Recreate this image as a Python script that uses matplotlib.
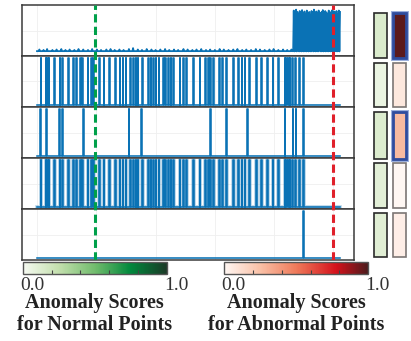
import numpy as np
import matplotlib
matplotlib.use("Agg")
import matplotlib.pyplot as plt
from matplotlib.colors import LinearSegmentedColormap, Normalize
from matplotlib.patches import Rectangle
import matplotlib.cm as cm

# ---------------- data ----------------
n_points = 512
xticks_grid = [0, 100, 200, 300, 400, 500]

# panel 1: raw series (baseline with small bumps, then anomalous burst)
top_base_level = 0.055
top_bump_idx = [4, 11, 17, 26, 33, 41, 48, 55, 63, 70, 78, 86, 93, 101, 108, 117, 124, 131,
                139, 146, 155, 162, 170, 177, 185, 193, 200, 208, 216, 223, 231, 238, 247, 254,
                262, 269, 277, 285, 292, 300, 308, 315, 323, 331, 338, 346, 353, 361, 369, 376,
                384, 392, 399, 407, 415, 422, 429]
top_bump_val = [0.09, 0.08, 0.10, 0.08, 0.09, 0.10, 0.08, 0.09, 0.08, 0.10, 0.09, 0.08, 0.10,
                0.09, 0.08, 0.09, 0.10, 0.08, 0.09, 0.08, 0.10, 0.12, 0.09, 0.08, 0.10, 0.09,
                0.08, 0.09, 0.10, 0.08, 0.09, 0.08, 0.10, 0.09, 0.08, 0.09, 0.10, 0.08, 0.09,
                0.08, 0.10, 0.09, 0.08, 0.09, 0.10, 0.08, 0.09, 0.08, 0.10, 0.09, 0.08, 0.09,
                0.10, 0.08, 0.09, 0.08, 0.09]
top_burst_start = 433
top_burst_vals = [0.93, 0.05, 0.88, 0.06, 0.95, 0.05, 0.90, 0.07, 0.86, 0.05,
                  0.92, 0.06, 0.89, 0.05, 0.94, 0.06, 0.87, 0.05, 0.91, 0.07,
                  0.85, 0.05, 0.93, 0.06, 0.88, 0.05, 0.90, 0.06, 0.84, 0.05,
                  0.92, 0.07, 0.89, 0.05, 0.95, 0.06, 0.86, 0.05, 0.91, 0.06,
                  0.88, 0.05, 0.93, 0.06, 0.06, 0.87, 0.05, 0.90, 0.06, 0.94,
                  0.05, 0.86, 0.06, 0.92, 0.05, 0.89, 0.07, 0.85, 0.05, 0.93,
                  0.06, 0.90, 0.05, 0.87, 0.06, 0.94, 0.05, 0.06, 0.91, 0.05,
                  0.88, 0.06, 0.92, 0.05, 0.86, 0.06, 0.93, 0.05, 0.90]

# panels 2-5: binary detections (indices of flagged points)
spikes_dense = [7, 15, 18, 20, 30, 39, 43, 53, 62, 67, 73, 77, 86, 92, 95, 105, 113, 122, 132,
                140, 145, 150, 158, 163, 167, 170, 178, 188, 192, 196, 201, 206, 213, 217, 222,
                226, 230, 241, 247, 252, 264, 275, 284, 289, 293, 298, 308, 313, 320, 331, 340,
                346, 351, 358, 370, 379, 389, 398, 407, 418, 421, 424, 427, 431, 436, 443, 449]
spikes_sparse = [6, 16, 38, 43, 78, 155, 176, 293, 320, 355, 418, 432, 437, 449]
spikes_single = [449]
panel_spikes = [spikes_dense, spikes_sparse, spikes_dense, spikes_single]

# thresholds (vertical dashed lines)
normal_marker = 97
abnormal_marker = 499

# per-panel scores shown in the side boxes
normal_scores = [0.14, 0.06, 0.13, 0.10, 0.11]
abnormal_scores = [0.97, 0.07, 0.27, 0.00, 0.04]
highlighted = [True, False, True, False, False]

# ---------------- styles ----------------
W, H = 411, 341
line_color = "#0a72b5"
green_cmap = LinearSegmentedColormap.from_list(
    "g", [(0, "#f6faf2"), (0.25, "#c3dfad"), (0.5, "#72bc6d"), (0.75, "#00883c"), (1, "#1b3a27")])
red_cmap = LinearSegmentedColormap.from_list(
    "r", [(0, "#fff7f3"), (0.25, "#f9c0a6"), (0.5, "#ef7a5a"), (0.78, "#d4111b"), (1, "#4b1b1c")])
serif = ["Liberation Serif", "DejaVu Serif"]


def rect(l, t, r, b):
    return [l / W, 1 - b / H, (r - l) / W, (b - t) / H]


fig = plt.figure(figsize=(W / 100, H / 100), dpi=100)
fig.patch.set_facecolor("white")

panel_bounds = [(5, 56), (56, 107), (107, 158), (158, 209), (209, 260)]
x_left, x_right = 22, 354
xlim = (-25.3, 534.6)

# build series
top_series = np.full(top_burst_start, top_base_level)
top_series[top_bump_idx] = top_bump_val
top_series = np.concatenate([top_series, np.array(top_burst_vals)])
series_list = [top_series]
for sp in panel_spikes:
    s = np.zeros(n_points)
    s[sp] = 1.0
    series_list.append(s)

axes = []
for i, (t, b) in enumerate(panel_bounds):
    ax = fig.add_axes(rect(x_left, t, x_right, b))
    s = series_list[i]
    xs = np.arange(len(s))
    if i == 0:
        ax.plot(xs, s, color=line_color, lw=1.3)
    else:
        if i == 3:
            ax.plot(xs, s, color=line_color, lw=2.6, alpha=0.3, drawstyle="steps-mid")
        ax.plot(xs, s, color=line_color, lw=1.15, drawstyle="steps-mid")
    ax.set_xlim(*xlim)
    ax.set_ylim(-0.05, 1.05)
    ax.set_xticks(xticks_grid)
    ax.set_yticks([0.5])
    ax.grid(True, color="#efefef", lw=0.6)
    ax.set_axisbelow(True)
    ax.tick_params(left=False, bottom=False, labelleft=False, labelbottom=False)
    for sp in ax.spines.values():
        sp.set_color("#3a3a3a")
        sp.set_linewidth(1.1)
    axes.append(ax)

# dashed marker lines across all panels
ov = fig.add_axes(rect(x_left, 5, x_right, 260))
ov.set_xlim(*xlim)
ov.set_ylim(0, 1)
ov.axis("off")
ov.patch.set_alpha(0)
ov.axvline(normal_marker, color="#00a04a", lw=2.2, dashes=(2.7, 1.4))
ov.axvline(abnormal_marker, color="#e0202a", lw=2.2, dashes=(2.7, 1.4))

# side boxes
bx = fig.add_axes([0, 0, 1, 1])
bx.set_xlim(0, W)
bx.set_ylim(H, 0)
bx.axis("off")
bx.patch.set_alpha(0)
box_rows = [(12.5, 57.5), (62.5, 107), (112, 159), (162.5, 207.5), (212.5, 257)]
for i, (t, b) in enumerate(box_rows):
    bx.add_patch(Rectangle((374, t), 12.5, b - t, facecolor=green_cmap(normal_scores[i]),
                           edgecolor="#2a2a2a", lw=1.2))
    if highlighted[i]:
        bx.add_patch(Rectangle((392.5, t), 13, b - t, facecolor="none",
                               edgecolor="#9db0dd", lw=3.6))
        bx.add_patch(Rectangle((392.5, t), 13, b - t, facecolor=red_cmap(abnormal_scores[i]),
                               edgecolor="#2f4c9e", lw=2.0))
    else:
        bx.add_patch(Rectangle((392.5, t), 13, b - t, facecolor=red_cmap(abnormal_scores[i]),
                               edgecolor="#7c7674", lw=1.2))

# colorbars
for cmap, (l, r), title in [(green_cmap, (22.7, 166.7), "for Normal Points"),
                            (red_cmap, (224, 368.3), "for Abnormal Points")]:
    cax = fig.add_axes(rect(l, 261.7, r, 274))
    cb = fig.colorbar(cm.ScalarMappable(norm=Normalize(0, 1), cmap=cmap), cax=cax,
                      orientation="horizontal")
    cb.set_ticks([0.2, 0.4, 0.6, 0.8])
    cax.tick_params(direction="in", length=3, width=0.8, color="#444", labelbottom=False)
    cb.outline.set_edgecolor("#555555")
    cb.outline.set_linewidth(1.0)
    bx.text(l + 9.5, 290.5, "0.0", ha="center", va="baseline", fontsize=14,
            family=serif, color="#333333")
    bx.text(r + 9.5, 290.5, "1.0", ha="center", va="baseline", fontsize=14,
            family=serif, color="#333333")
    cx = (l + r) / 2
    bx.text(cx, 308, "Anomaly Scores", ha="center", va="baseline", fontsize=14.5,
            family=serif, weight="bold", color="#222222")
    bx.text(cx, 330.5, title, ha="center", va="baseline", fontsize=14.5,
            family=serif, weight="bold", color="#222222")

fig.savefig("out.png", dpi=100)
